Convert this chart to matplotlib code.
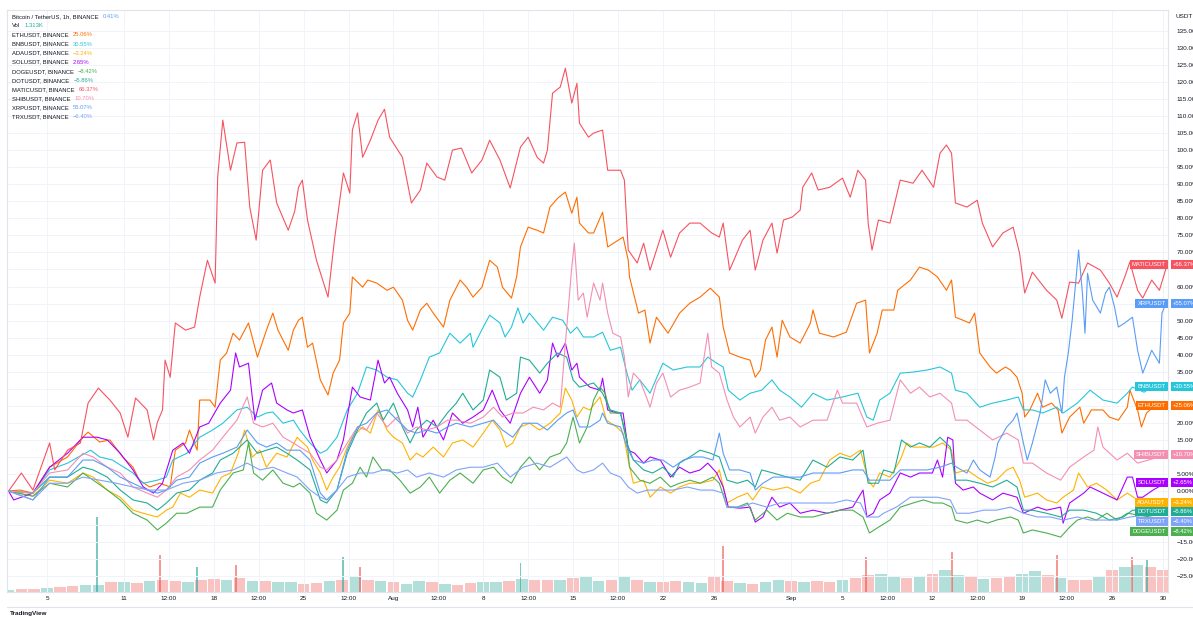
import matplotlib.pyplot as plt
from matplotlib.lines import Line2D
from matplotlib.transforms import blended_transform_factory

plt.rcParams['font.family'] = ['Liberation Sans', 'DejaVu Sans']

eth = [(1.0, 0), (1.9, 0.3), (2.9, -0.6), (4.2, 7.0), (5.6, 10.0), (6.8, 15.8), (7.2, 17.3), (8.1, 14.4), (8.9, 15.0),
       (9.9, 10.0), (10.7, 7.0), (11.2, 3.2), (12.0, 1.2), (12.8, 2.3), (13.6, 1.2), (14.0, 12.0), (14.8, 14.1),
       (15.1, 17.9), (15.7, 12.0), (15.9, 26.7), (16.7, 26.7), (17.1, 24.6), (17.5, 38.4), (18.0, 40.5), (18.5, 46.3),
       (19.0, 44.3), (19.7, 49.3), (20.4, 39.3), (21.1, 47.2), (21.6, 52.2), (22.0, 47.2), (22.8, 41.3), (23.2, 47.2),
       (23.6, 50.1), (23.9, 51.0), (24.3, 42.2), (24.7, 43.4), (25.3, 32.6), (25.9, 28.2), (26.3, 34.6), (26.8, 38.4),
       (27.1, 49.3), (27.6, 52.2), (27.8, 62.8), (28.6, 59.8), (29.0, 61.9), (29.7, 61.0), (30.5, 58.9), (31.0, 59.8),
       (31.7, 56.0), (32.1, 50.1), (32.5, 47.2), (33.1, 53.1), (33.6, 55.1), (34.1, 52.2), (34.9, 48.1), (35.4, 56.0),
       (36.2, 61.9), (36.7, 59.8), (37.2, 56.9), (37.9, 59.8), (38.5, 67.7), (39.1, 65.7), (39.5, 59.8), (40.2, 56.6),
       (40.6, 62.8), (40.9, 71.6), (41.5, 77.4), (42.2, 76.5), (42.7, 75.7), (43.2, 83.3), (43.8, 85.9), (44.4, 87.7),
       (44.9, 81.5), (45.3, 86.2), (45.5, 78.6), (46.2, 75.7), (46.6, 75.7), (47.3, 81.8), (47.7, 71.6), (48.9, 74.5),
       (49.3, 67.7), (49.4, 62.8), (50.1, 52.2), (50.6, 53.1), (51.0, 43.4), (51.5, 51.0), (52.4, 46.3), (53.3, 52.2),
       (54.1, 55.1), (54.9, 56.9), (55.7, 59.5), (56.4, 56.9), (56.7, 48.1), (57.2, 40.5), (58.0, 39.3), (58.8, 38.4),
       (59.2, 33.4), (59.6, 35.5), (60.0, 44.3), (60.5, 48.1), (60.9, 39.3), (61.3, 50.1), (61.9, 45.2), (62.7, 43.4),
       (63.5, 49.3), (63.7, 53.1), (64.2, 46.3), (65.3, 45.2), (66.3, 46.6), (67.1, 55.1), (67.8, 56.0), (68.1, 40.5),
       (68.7, 46.3), (69.1, 53.1), (70.0, 53.1), (70.3, 58.9), (71.3, 61.9), (72.0, 65.7), (72.7, 64.8), (73.4, 62.8),
       (74.1, 58.9), (74.5, 61.9), (74.8, 51.0), (75.4, 50.1), (75.9, 49.3), (76.3, 52.2), (76.7, 40.5), (77.5, 36.4),
       (78.0, 34.6), (78.7, 36.4), (79.1, 35.5), (79.6, 33.4), (80.0, 28.7), (80.2, 21.7), (80.6, 23.8), (81.2, 28.7),
       (81.6, 24.6), (82.3, 25.8), (82.8, 23.8), (83.1, 17.0), (83.7, 21.7), (84.5, 24.6), (84.8, 19.9), (85.4, 23.8),
       (86.3, 23.8), (86.8, 21.7), (87.5, 20.8), (88.2, 24.6), (88.4, 29.6), (89.0, 23.8), (89.3, 18.8), (89.7, 22.9),
       (90.2, 24.6), (91.3, 25.06)]

bnb = [(1.0, 0), (2.9, -0.6), (4.2, 6.2), (5.6, 8.2), (7.4, 12.0), (8.1, 10.0), (9.1, 9.1), (10.7, 5.3), (11.5, 2.3),
       (12.6, 3.2), (13.3, 4.1), (13.8, 9.1), (14.9, 11.1), (15.9, 15.8), (16.9, 17.9), (17.7, 19.9), (18.8, 23.8),
       (19.6, 24.6), (20.4, 21.7), (21.1, 22.9), (21.6, 23.2), (22.4, 19.9), (23.2, 20.8), (23.7, 17.9), (24.5, 14.1),
       (25.3, 11.1), (25.8, 12.0), (26.6, 15.8), (27.4, 23.8), (28.2, 28.7), (28.9, 36.4), (29.7, 35.5), (30.5, 33.4),
       (31.3, 32.6), (32.1, 28.7), (32.5, 27.6), (33.1, 32.6), (33.8, 39.3), (34.6, 40.5), (35.4, 46.3), (36.2, 43.4),
       (37.0, 46.3), (37.2, 42.2), (38.0, 48.1), (38.5, 51.6), (39.3, 49.3), (39.7, 45.2), (40.2, 48.1), (40.7, 53.7),
       (41.1, 49.3), (41.6, 52.2), (42.7, 47.2), (43.4, 51.0), (44.2, 50.1), (44.8, 46.3), (45.3, 48.1), (45.8, 45.2),
       (46.6, 45.2), (47.3, 46.6), (47.9, 41.3), (48.7, 42.2), (49.2, 34.6), (49.6, 29.6), (50.2, 32.6), (51.0, 28.7),
       (52.0, 37.5), (52.8, 35.5), (53.9, 36.4), (54.9, 36.4), (55.5, 39.3), (56.2, 37.5), (56.7, 36.4), (57.1, 29.6),
       (58.0, 26.7), (58.8, 28.7), (59.7, 29.6), (60.5, 32.6), (61.1, 29.6), (61.9, 27.6), (62.8, 24.6), (63.7, 28.7),
       (64.8, 26.7), (66.0, 27.6), (67.2, 28.7), (67.9, 21.7), (68.4, 20.8), (68.9, 26.7), (69.7, 28.7), (70.5, 34.6),
       (71.5, 34.9), (72.6, 35.5), (73.6, 36.4), (74.5, 34.6), (74.8, 29.6), (75.7, 28.7), (76.7, 24.6), (77.7, 25.8),
       (78.8, 26.7), (79.7, 27.6), (80.1, 23.8), (80.8, 23.8), (81.6, 22.9), (82.7, 24.6), (83.2, 22.9), (84.3, 25.8),
       (85.3, 29.6), (86.3, 26.7), (87.4, 25.8), (88.2, 28.7), (88.6, 30.5), (89.5, 29.0), (90.3, 31.0), (91.3, 30.55)]

ada = [(1.0, 0), (2.9, -1.5), (4.2, 3.2), (5.6, 2.3), (6.8, 5.3), (7.6, 4.1), (8.7, 0.3), (9.7, -1.8), (10.7, -5.6),
       (11.5, -6.5), (12.6, -7.6), (13.3, -5.6), (13.8, -4.7), (14.4, -0.6), (15.1, -1.8), (15.9, 0.3), (16.9, -0.6),
       (17.6, 4.1), (18.3, 5.3), (18.9, 11.1), (19.4, 17.9), (20.0, 10.0), (20.6, 12.0), (21.1, 7.0), (21.9, 11.1),
       (22.7, 10.0), (23.5, 15.8), (23.7, 15.0), (24.3, 12.9), (24.7, 9.1), (25.3, 5.3), (25.8, 0.3), (26.3, 4.1),
       (26.8, 7.0), (27.4, 12.9), (27.8, 15.8), (28.6, 18.8), (29.2, 17.0), (29.8, 23.8), (30.5, 17.9), (31.0, 15.8),
       (31.7, 14.1), (32.3, 9.1), (32.8, 11.1), (33.3, 10.0), (34.1, 12.9), (34.9, 10.0), (35.6, 14.1), (36.4, 15.0),
       (37.2, 12.9), (38.0, 17.0), (38.7, 20.8), (39.3, 17.9), (39.8, 12.9), (40.3, 14.1), (40.9, 18.8), (41.6, 19.9),
       (42.4, 17.9), (43.2, 19.9), (44.0, 22.9), (44.4, 30.2), (44.9, 26.7), (45.3, 21.7), (45.8, 24.6), (46.3, 23.8),
       (47.1, 27.6), (47.6, 20.8), (48.4, 18.8), (48.9, 17.0), (49.3, 9.1), (49.7, 2.3), (50.5, 3.2), (51.0, -1.8),
       (51.8, 1.2), (52.6, -0.6), (53.3, 1.2), (54.1, 2.3), (54.9, 2.3), (55.9, 3.2), (56.4, 6.2), (57.0, -3.5),
       (57.8, -1.8), (58.6, -0.6), (59.0, -2.6), (59.7, 1.2), (60.6, 0.3), (61.7, 1.2), (62.7, -0.6), (63.5, 2.3),
       (64.2, 3.2), (65.0, 9.1), (65.8, 11.1), (66.6, 10.0), (67.4, 12.0), (68.0, 3.2), (68.4, 1.2), (68.9, 5.3),
       (69.7, 4.1), (70.5, 9.1), (71.0, 14.1), (71.5, 12.9), (72.3, 12.9), (73.1, 12.9), (73.8, 14.1), (74.5, 12.0),
       (74.8, 5.3), (75.7, 6.2), (76.5, 4.1), (77.3, 2.3), (78.0, 3.2), (78.8, 6.2), (79.3, 7.0), (79.8, 3.2),
       (80.2, -1.8), (81.2, -0.6), (81.9, -2.6), (82.7, -3.5), (83.2, -1.8), (84.0, 0.3), (84.4, 5.3), (85.1, 1.2),
       (85.8, 2.3), (86.6, 0.3), (87.4, -2.6), (88.2, -0.6), (89.0, -2.6), (91.3, -3.24)]

sol = [(1.0, 0), (1.4, -2.6), (2.9, -0.6), (4.2, 7.0), (5.6, 11.1), (6.8, 15.8), (7.9, 15.8), (8.7, 15.0), (9.7, 11.1),
       (10.7, 6.2), (11.5, 1.2), (12.3, -0.6), (13.0, 2.3), (13.8, 12.0), (14.6, 14.1), (15.1, 11.1), (15.9, 18.8),
       (16.6, 19.9), (17.5, 25.8), (18.3, 29.6), (18.7, 40.5), (19.0, 36.4), (19.7, 37.5), (20.2, 20.8), (20.8, 29.6),
       (21.5, 31.7), (21.9, 25.8), (22.7, 23.8), (23.2, 22.9), (23.9, 23.8), (24.5, 15.8), (25.3, 9.1), (25.8, 5.3),
       (26.6, 9.1), (27.1, 15.0), (27.8, 30.5), (28.4, 27.6), (29.2, 26.7), (29.8, 38.4), (30.3, 31.7), (30.7, 33.4),
       (31.3, 28.7), (32.1, 23.8), (32.5, 18.8), (32.9, 24.6), (33.3, 15.8), (34.1, 20.8), (34.9, 15.0), (35.6, 22.9),
       (36.4, 19.9), (37.2, 21.7), (38.0, 23.8), (38.7, 29.6), (39.3, 23.8), (40.1, 19.9), (40.9, 28.7), (41.6, 33.4),
       (42.4, 28.7), (43.0, 32.6), (43.4, 43.4), (43.8, 39.3), (44.4, 43.4), (44.9, 35.5), (45.3, 37.5), (45.5, 33.4),
       (46.3, 30.5), (47.1, 29.6), (47.3, 33.1), (47.7, 23.8), (48.4, 22.9), (48.9, 22.9), (49.3, 12.0), (49.8, 11.1),
       (50.5, 8.2), (51.0, 10.0), (51.8, 9.1), (52.6, 4.1), (53.3, 7.0), (54.1, 5.3), (54.9, 6.2), (55.5, 8.2),
       (56.2, 5.3), (56.7, 1.2), (57.1, -4.7), (58.0, -5.0), (58.8, -4.7), (59.2, -9.1), (59.8, -7.6), (60.5, -1.8),
       (61.1, -4.7), (61.9, -3.5), (62.7, -6.5), (63.7, -5.6), (64.8, -6.5), (65.8, -5.6), (66.8, -4.7), (67.6, 0.3),
       (67.9, -7.6), (68.4, -6.5), (68.9, -2.6), (69.7, -0.6), (70.5, 5.3), (71.3, 4.1), (72.0, 5.3), (73.0, 5.3),
       (73.4, 9.1), (73.8, 4.1), (74.2, 15.8), (74.6, 15.0), (74.8, 2.3), (75.4, 0.3), (76.2, 1.2), (76.7, -0.6),
       (77.7, -2.6), (78.5, -0.6), (79.6, -1.8), (80.1, -6.5), (81.2, -4.7), (81.9, -5.6), (83.0, -4.7), (83.2, -9.4),
       (83.7, -3.5), (84.8, -0.6), (85.3, 1.2), (86.3, -0.6), (87.4, -2.6), (88.2, 4.1), (88.6, 4.1), (89.0, -1.8),
       (89.4, -1.8), (90.2, 0.3), (91.3, 2.65)]

doge = [(1.0, 0), (2.9, -1.5), (4.2, 2.3), (5.6, 1.2), (6.8, 5.3), (7.6, 3.2), (8.7, 0.3), (9.7, -2.6), (10.7, -6.5),
        (11.8, -8.5), (12.6, -11.4), (13.3, -9.4), (14.1, -6.5), (14.9, -6.5), (15.9, -4.7), (16.9, -4.7), (17.5, 0.3),
        (18.5, 5.3), (19.3, 6.2), (19.7, 14.1), (20.1, 5.3), (20.8, 3.2), (21.6, 6.2), (22.4, 2.3), (23.2, 1.2),
        (23.7, 2.3), (24.5, -0.6), (25.0, -6.5), (25.8, -8.5), (26.6, -5.6), (27.1, 0.3), (27.8, 2.3), (28.4, 7.0),
        (28.9, 4.1), (29.4, 10.0), (30.1, 6.2), (30.7, 6.2), (31.5, 3.2), (32.3, -0.6), (33.1, 1.2), (33.8, 4.1),
        (34.6, -0.6), (35.4, 3.2), (36.2, 5.3), (37.2, 2.3), (38.0, 6.2), (38.8, 7.0), (39.5, 4.1), (40.2, 2.3),
        (40.9, 7.0), (41.6, 10.0), (42.4, 6.2), (43.2, 10.0), (44.0, 11.1), (44.5, 14.1), (45.0, 21.7), (45.5, 14.1),
        (46.1, 18.8), (46.6, 26.7), (47.1, 30.5), (47.5, 28.7), (47.9, 22.9), (48.7, 22.9), (49.2, 15.0), (49.4, 7.0),
        (50.2, 3.2), (51.0, 2.3), (51.8, 4.1), (52.6, 1.2), (53.3, 2.3), (54.1, 3.2), (54.9, 2.3), (55.9, 4.1),
        (56.4, 2.3), (57.0, -4.7), (57.8, -4.7), (58.6, -3.5), (59.2, -8.5), (60.1, -5.6), (60.9, -8.5), (61.7, -6.5),
        (62.7, -7.6), (63.7, -7.6), (64.8, -6.5), (65.8, -5.6), (66.8, -5.6), (67.6, -7.6), (68.1, -12.3),
        (68.8, -10.6), (69.7, -8.5), (70.5, -4.7), (71.5, -3.5), (72.3, -2.6), (73.1, -3.5), (73.8, -3.5),
        (74.5, -4.7), (74.8, -8.5), (75.7, -9.4), (76.5, -8.5), (77.3, -9.4), (78.0, -8.5), (79.1, -7.6), (79.7, -8.5),
        (80.1, -12.3), (80.8, -11.4), (81.9, -12.3), (83.0, -13.5), (83.7, -10.6), (84.3, -8.5), (85.1, -7.6),
        (85.8, -8.5), (86.6, -6.5), (87.4, -8.5), (88.2, -6.5), (91.3, -8.42)]

dot = [(1.0, 0), (2.9, -0.6), (4.2, 4.1), (5.6, 4.1), (6.8, 7.0), (7.6, 6.2), (8.7, 4.1), (9.7, 0.3), (10.7, -2.6),
       (11.8, -3.5), (12.6, -5.6), (13.3, -3.5), (14.1, -0.6), (15.1, 0.3), (15.9, 3.2), (16.9, 5.3), (17.5, 9.1),
       (18.5, 11.1), (19.6, 15.0), (20.4, 11.1), (21.1, 12.0), (21.9, 12.9), (22.7, 11.1), (23.5, 9.1), (24.5, 6.2),
       (25.3, -2.6), (25.8, -3.5), (26.6, 0.3), (27.4, 11.1), (28.2, 17.9), (28.9, 22.9), (29.7, 25.8), (30.2, 20.8),
       (31.0, 25.8), (31.7, 18.8), (32.3, 14.1), (32.8, 17.9), (33.6, 20.8), (34.4, 18.8), (35.2, 22.9), (35.9, 25.8),
       (36.4, 28.7), (37.2, 23.8), (38.0, 26.7), (38.5, 35.5), (39.3, 33.4), (39.8, 26.7), (40.6, 28.7), (40.9, 39.3),
       (41.6, 38.4), (42.4, 34.6), (43.0, 37.5), (43.8, 40.5), (44.5, 39.3), (45.0, 32.6), (45.5, 30.5), (46.6, 31.7),
       (47.3, 28.7), (47.9, 23.8), (48.7, 22.9), (49.2, 14.1), (49.7, 9.1), (50.5, 6.2), (51.2, 5.3), (52.0, 7.0),
       (52.8, 4.1), (53.3, 8.2), (54.1, 10.0), (54.9, 12.0), (55.7, 11.1), (56.4, 10.0), (57.0, 3.2), (57.8, 2.3),
       (58.6, 3.2), (59.2, 1.2), (59.7, 6.2), (60.6, 5.3), (61.7, 4.1), (62.7, 3.2), (63.7, 9.1), (64.8, 7.0),
       (65.8, 10.0), (66.8, 9.1), (67.6, 12.0), (68.0, 2.3), (68.8, 2.3), (69.2, 6.2), (70.0, 5.3), (70.6, 15.0),
       (71.3, 12.9), (72.0, 14.1), (72.8, 12.9), (73.6, 15.8), (74.4, 12.9), (74.8, 3.2), (75.7, 3.2), (76.7, 2.3),
       (77.7, 1.2), (78.8, 3.2), (79.6, 1.2), (80.1, -5.6), (80.8, -5.6), (81.9, -6.5), (83.0, -7.6), (83.7, -5.6),
       (84.8, -5.6), (85.8, -6.5), (86.8, -8.5), (87.9, -7.6), (88.6, -5.6), (91.3, -5.86)]

matic = [(1.0, 0), (2.0, 5.3), (2.9, 0.3), (4.2, 14.1), (4.6, 6.2), (5.6, 12.0), (6.6, 14.1), (7.2, 25.8), (8.0, 30.2),
         (8.9, 26.7), (9.7, 22.9), (10.3, 15.8), (10.9, 27.3), (11.8, 23.8), (12.3, 15.0), (12.6, 20.2), (13.0, 23.8),
         (13.2, 38.4), (13.6, 33.4), (14.0, 49.3), (14.8, 47.2), (15.5, 48.1), (15.9, 56.9), (16.5, 67.7), (17.1, 61.0),
         (17.3, 92.1), (17.7, 108.8), (18.3, 94.1), (18.8, 102.1), (19.4, 102.3), (19.8, 83.3), (20.3, 73.6),
         (20.8, 94.1), (21.4, 97.1), (21.9, 84.5), (22.8, 76.5), (23.3, 82.0), (23.6, 89.1), (23.9, 91.2), (24.3, 79.5),
         (25.0, 67.7), (25.9, 56.9), (26.4, 73.6), (27.1, 93.3), (27.6, 87.4), (27.8, 105.9), (28.2, 110.9),
         (28.6, 97.9), (29.2, 102.9), (29.8, 108.8), (30.3, 112.0), (30.7, 103.8), (31.7, 97.9), (32.4, 84.5),
         (33.1, 88.3), (33.6, 96.2), (34.4, 92.1), (35.0, 91.2), (35.6, 100.0), (36.3, 100.6), (37.1, 93.3),
         (37.9, 97.1), (38.5, 102.9), (39.3, 97.1), (40.1, 88.9), (40.9, 100.9), (41.5, 103.8), (42.2, 97.9),
         (42.7, 96.2), (43.0, 100.0), (43.4, 116.7), (44.0, 118.5), (44.4, 124.0), (44.9, 113.8), (45.3, 119.6),
         (45.5, 107.9), (46.2, 103.8), (46.6, 105.0), (47.3, 105.9), (47.7, 94.1), (48.7, 94.1), (49.0, 91.2),
         (49.3, 70.7), (50.0, 66.9), (50.5, 72.7), (51.0, 64.8), (52.0, 76.5), (52.6, 68.6), (53.3, 75.7),
         (54.1, 78.6), (54.9, 78.6), (55.8, 75.7), (56.4, 74.5), (56.7, 78.6), (57.2, 64.8), (58.2, 73.6),
         (58.8, 76.5), (59.2, 64.8), (59.8, 73.6), (60.5, 78.6), (60.9, 69.8), (61.4, 79.5), (62.1, 80.4),
         (62.7, 82.4), (62.9, 89.1), (63.6, 93.3), (64.1, 88.3), (65.0, 89.1), (66.0, 91.8), (66.6, 86.2),
         (67.2, 94.1), (67.8, 91.2), (68.0, 78.6), (68.3, 70.7), (68.8, 79.5), (69.7, 78.6), (70.5, 91.2),
         (71.5, 90.3), (72.2, 94.1), (73.1, 89.1), (73.6, 99.1), (74.1, 101.5), (74.5, 99.1), (74.8, 84.5),
         (75.7, 83.3), (76.5, 85.3), (76.9, 78.6), (77.7, 71.6), (78.5, 75.7), (79.3, 77.4), (79.8, 69.8),
         (80.2, 58.1), (80.8, 64.2), (81.9, 58.9), (82.7, 56.0), (83.1, 50.7), (83.7, 61.3), (84.4, 61.0),
         (85.1, 66.9), (86.1, 64.8), (86.8, 61.0), (87.4, 56.9), (88.0, 62.8), (88.4, 67.2), (89.0, 58.9),
         (89.4, 56.6), (90.1, 61.9), (90.7, 58.9), (91.1, 63.9), (91.3, 66.37)]

shib = [(1.0, 0), (2.9, -0.6), (4.2, 5.3), (5.6, 6.2), (6.8, 11.1), (7.6, 10.0), (8.7, 7.0), (9.7, 5.3), (10.7, 1.2),
        (11.8, -0.6), (12.6, -1.8), (13.3, 0.3), (14.1, 4.1), (15.1, 6.2), (15.9, 9.1), (16.9, 12.0), (17.7, 15.8),
        (18.8, 20.8), (19.6, 27.6), (20.1, 19.9), (20.8, 18.8), (21.6, 19.9), (22.4, 15.8), (23.2, 14.1), (23.7, 12.9),
        (24.5, 11.1), (25.3, 7.0), (25.8, 6.2), (26.6, 9.1), (27.4, 14.1), (28.2, 18.8), (28.9, 17.9), (29.7, 22.9),
        (30.5, 18.8), (31.3, 21.7), (32.1, 17.0), (32.8, 18.8), (33.6, 17.9), (34.4, 18.8), (35.2, 20.8), (35.9, 20.8),
        (37.0, 19.9), (38.0, 21.7), (38.8, 24.6), (39.5, 21.7), (40.3, 22.9), (41.1, 22.9), (41.9, 24.6), (42.7, 23.8),
        (43.4, 25.8), (44.0, 24.6), (44.4, 43.4), (44.6, 52.2), (44.9, 65.7), (45.1, 72.7), (45.4, 56.0), (45.8, 58.1),
        (46.1, 51.0), (46.6, 61.0), (47.1, 56.0), (47.3, 61.0), (47.7, 52.2), (48.1, 46.3), (48.7, 45.2), (49.0, 39.3),
        (49.3, 27.6), (49.7, 34.6), (50.2, 32.6), (50.8, 26.7), (51.0, 24.6), (51.5, 31.7), (52.0, 34.6), (52.6, 27.6),
        (53.3, 29.6), (54.1, 30.5), (54.9, 31.7), (55.5, 46.3), (55.8, 36.4), (56.4, 34.6), (57.0, 26.7), (57.5, 21.7),
        (58.0, 18.8), (58.8, 21.7), (59.2, 17.0), (59.8, 21.7), (60.5, 24.6), (61.1, 20.8), (61.9, 21.7), (62.7, 18.8),
        (63.7, 20.8), (64.8, 20.8), (65.6, 29.6), (66.0, 25.8), (67.1, 25.8), (67.9, 18.8), (68.7, 19.9), (69.7, 20.8),
        (70.5, 32.6), (71.3, 28.7), (72.0, 30.5), (72.8, 27.6), (73.6, 28.7), (74.5, 25.8), (74.8, 20.8), (75.7, 20.8),
        (76.7, 17.9), (77.7, 15.0), (78.8, 17.0), (79.7, 15.0), (80.1, 8.2), (80.8, 8.2), (81.9, 5.3), (83.0, 3.2),
        (83.7, 7.0), (84.8, 10.0), (85.6, 12.0), (85.9, 18.8), (86.3, 12.9), (87.4, 9.1), (88.2, 11.1), (89.0, 8.2),
        (91.3, 10.7)]

xrp = [(1.0, 0), (2.9, -2.6), (4.2, 4.1), (5.6, 4.1), (6.8, 9.1), (7.6, 9.1), (8.7, 7.0), (9.7, 4.1), (10.7, 2.3),
       (11.8, 0.3), (12.6, -0.6), (13.3, 0.3), (14.1, 3.2), (15.1, 4.1), (15.9, 8.2), (16.9, 10.0), (17.7, 11.1),
       (18.8, 12.9), (19.6, 17.9), (20.4, 14.1), (21.1, 12.9), (21.9, 14.1), (22.7, 12.0), (23.7, 12.0), (24.5, 9.1),
       (25.3, -0.6), (25.8, -2.6), (26.6, 0.3), (27.4, 12.0), (28.2, 18.8), (28.9, 19.9), (29.7, 22.9), (30.5, 23.8),
       (31.3, 20.8), (32.1, 17.9), (32.8, 17.0), (33.6, 17.9), (34.4, 17.0), (35.2, 18.8), (35.9, 19.9), (37.0, 18.8),
       (38.0, 19.9), (38.8, 20.8), (39.5, 17.9), (40.3, 15.8), (41.1, 19.9), (42.2, 19.9), (43.0, 17.9), (43.8, 20.8),
       (44.5, 22.9), (45.0, 23.8), (45.5, 18.8), (46.3, 18.8), (47.1, 20.8), (47.3, 22.9), (47.7, 19.9), (48.7, 18.8),
       (49.2, 12.9), (49.7, 9.1), (50.5, 8.2), (51.2, 9.1), (52.0, 9.1), (52.8, 7.0), (53.6, 9.1), (54.4, 10.0),
       (55.1, 10.0), (55.9, 9.1), (56.4, 17.0), (56.7, 11.1), (57.2, 6.2), (58.0, 6.2), (58.8, 5.3), (59.2, 0.3),
       (59.8, 2.3), (60.6, 4.1), (61.7, 4.1), (62.7, 4.1), (63.7, 5.3), (64.8, 5.3), (65.8, 5.3), (66.8, 6.2),
       (67.6, 6.2), (68.1, 3.2), (69.7, 3.2), (70.5, 6.2), (71.5, 6.2), (72.6, 6.2), (73.6, 7.0), (74.5, 8.2),
       (74.9, 7.0), (75.7, 5.3), (76.2, 9.1), (76.7, 6.2), (77.5, 4.1), (77.9, 10.0), (78.1, 14.1), (78.8, 18.8),
       (79.3, 20.8), (79.6, 22.9), (80.1, 14.1), (80.4, 9.1), (80.8, 14.1), (81.4, 22.9), (81.8, 32.6), (82.2, 28.7),
       (82.7, 30.5), (83.1, 22.9), (83.3, 33.4), (83.6, 40.5), (83.9, 50.1), (84.1, 58.1), (84.4, 70.7), (84.7, 58.1),
       (84.9, 46.3), (85.1, 63.9), (85.5, 56.0), (86.1, 52.2), (86.5, 58.1), (86.8, 59.8), (87.2, 54.0), (87.5, 48.1),
       (88.0, 49.3), (88.6, 51.0), (89.0, 41.3), (89.4, 34.6), (90.1, 41.3), (90.7, 37.5), (90.9, 52.2), (91.1, 54.0),
       (91.3, 55.07)]

trx = [(1.0, 0), (2.9, -2.6), (4.2, 2.3), (5.6, 2.3), (6.8, 4.1), (8.1, 3.2), (9.4, 2.3), (10.7, 1.2), (12.0, 0.3),
       (13.3, 0.3), (14.6, 2.3), (15.9, 3.2), (17.2, 5.3), (18.5, 6.2), (19.6, 8.2), (20.6, 6.2), (21.6, 7.0),
       (22.7, 5.3), (23.5, 4.1), (24.5, 0.3), (25.3, -1.8), (25.8, -2.6), (26.6, 0.3), (27.4, 4.1), (28.4, 5.3),
       (29.4, 5.3), (30.2, 6.2), (31.3, 5.3), (32.1, 6.2), (32.8, 4.1), (33.8, 5.3), (34.9, 4.1), (35.9, 6.2),
       (37.0, 7.0), (38.0, 7.0), (39.1, 8.2), (40.1, 4.1), (41.1, 7.0), (42.2, 8.2), (43.2, 7.0), (44.5, 10.0),
       (45.3, 6.2), (45.8, 5.3), (46.6, 6.2), (47.3, 8.2), (47.9, 5.3), (48.7, 4.1), (49.3, 1.2), (50.0, -0.6),
       (50.8, 0.3), (51.8, 0.3), (52.8, 0.3), (53.9, 1.2), (54.9, 0.3), (55.9, 0.3), (56.7, -0.6), (57.0, -4.7),
       (58.0, -4.7), (59.0, -3.5), (60.1, -4.7), (61.1, -3.5), (62.1, -3.5), (63.2, -3.5), (64.2, -3.5), (65.3, -3.5),
       (66.3, -2.6), (67.4, -3.5), (67.9, -7.6), (68.8, -7.6), (69.2, -6.5), (70.2, -4.7), (71.3, -1.8), (72.3, -1.8),
       (73.4, -1.8), (74.4, -2.6), (74.9, -6.5), (75.9, -6.5), (77.0, -5.6), (78.0, -5.6), (79.1, -4.7), (80.1, -6.5),
       (81.2, -7.6), (82.2, -7.6), (83.2, -8.5), (84.3, -7.6), (85.3, -8.5), (86.3, -8.5), (87.4, -8.5), (88.4, -7.6),
       (91.3, -6.4)]

nombres = ['ETHUSDT', 'BNBUSDT', 'ADAUSDT', 'SOLUSDT', 'DOGEUSDT', 'DOTUSDT', 'MATICUSDT', 'SHIBUSDT', 'XRPUSDT', 'TRXUSDT']
colores = ['#FF6D00', '#26C6DA', '#FFB300', '#AA00FF', '#4CAF50', '#22AB94', '#F7525F', '#F48FB1', '#5B9CF6', '#7FA3F8']
datos = [eth, bnb, ada, sol, doge, dot, matic, shib, xrp, trx]

# Volumen diario (relativo) y algunos picos horarios
vol = [3, 4, 4, 5, 6, 7, 8, 9, 12, 12,
       11, 13, 15, 13, 12, 14, 16, 15, 17, 13,
       13, 12, 12, 10, 11, 13, 15, 18, 14, 13,
       12, 10, 13, 12, 10, 9, 11, 12, 12, 13,
       16, 15, 14, 15, 17, 18, 13, 14, 18, 15,
       12, 12, 13, 12, 11, 18, 13, 11, 10, 12,
       14, 13, 12, 13, 12, 15, 17, 20, 22, 18,
       17, 19, 22, 26, 20, 18, 16, 17, 19, 22,
       25, 20, 17, 14, 14, 18, 26, 30, 32, 30, 27]
vol_dir = "uddudduudududduddududuuddudududuududduududduduudududduudduduududdudduududuududduududduduuddudduduudduud"
picos = [(7.9, 90, 'u'), (12.8, 45, 'd'), (15.7, 30, 'u'), (18.7, 32, 'd'), (27.1, 42, 'u'), (28.4, 30, 'd'),
         (40.9, 35, 'u'), (56.7, 55, 'd'), (67.8, 42, 'd'), (74.5, 48, 'd'), (82.7, 45, 'd'), (88.6, 42, 'd'),
         (89.7, 40, 'u')]

ticks_x = [4, 10, 13.5, 17, 20.5, 24, 27.5, 31, 34.5, 38, 41.5, 45, 48.5, 52, 56, 62, 66, 69.5, 73, 76.5, 80, 83.5, 87, 91]
labels_x = ['5', '11', '12:00', '18', '12:00', '25', '12:00', 'Aug', '12:00', '8', '12:00', '15', '12:00', '22', '26',
            'Sep', '5', '12:00', '12', '12:00', '19', '12:00', '26', '30']
ticks_y = list(range(-25, 140, 5))

fig = plt.figure(figsize=(11.93, 6.17), dpi=100)
ax = fig.add_axes([7/1193, 25/617, 1161/1193, 582/617])
axv = ax.twinx()
ax.set_zorder(axv.get_zorder() + 1)
ax.patch.set_visible(False)

# Volumen
colv = {'u': '#26A69A', 'd': '#EF5350'}
axv.bar(range(1, len(vol) + 1), vol, width=0.9, color=[colv[c] for c in vol_dir[:len(vol)]], alpha=0.35, linewidth=0)
axv.bar([p[0] for p in picos], [p[1] for p in picos], width=0.15, color=[colv[p[2]] for p in picos],
        alpha=0.6, linewidth=0)
axv.set_ylim(0, 700)
axv.set_yticks([])
for s in axv.spines.values():
    s.set_visible(False)

# Lineas
for nombre, serie, color in zip(nombres, datos, colores):
    ax.plot([p[0] for p in serie], [p[1] for p in serie], color=color, lw=0.8)

# Posicion de las etiquetas de la derecha (evitando que se encimen)
finales = [s[-1][1] for s in datos]
orden = sorted(range(len(finales)), key=lambda i: -finales[i])
pos = {}
prev = None
for i in orden:
    y = finales[i]
    if prev is not None and prev - y < 2.85:
        y = prev - 2.85
    pos[i] = y
    prev = y

ax.set_xlim(0.88, 91.37)
ax.set_ylim(-29.6, 141.1)
ax.set_xticks(ticks_x)
ax.set_xticklabels(labels_x)
ax.yaxis.tick_right()
ax.set_yticks(ticks_y)
# las marcas tapadas por las cajas de valor no se escriben
etiquetas_y = []
for v in ticks_y:
    tapada = any(abs(v - p) < 1.9 for p in pos.values())
    etiquetas_y.append('' if tapada else f"{v:.2f}%".replace('-', '\u2212'))
ax.set_yticklabels(etiquetas_y)
ax.tick_params(axis='y', length=0, pad=6, labelsize=4.6, labelcolor='#131722')
ax.tick_params(axis='x', length=0, pad=3, labelsize=4.6, labelcolor='#131722')
ax.grid(color='#F0F3FA', lw=0.7)
for s in ax.spines.values():
    s.set_color('#E0E3EB')
    s.set_linewidth(0.8)
# borde inferior de la franja de fechas
fig.add_artist(Line2D([7/1193, 1], [1 - 607/617, 1 - 607/617], transform=fig.transFigure, color='#E0E3EB', lw=0.8))
fig.text(1175/1193, 1 - 17/617, 'USDT', fontsize=4.6, va='center', color='#131722')

trans = blended_transform_factory(ax.transAxes, ax.transData)
for i in range(len(nombres)):
    caja = dict(boxstyle='square,pad=0.35', fc=colores[i], ec='none')
    ax.text(0.998, pos[i], nombres[i], transform=trans, ha='right', va='center', fontsize=4.2,
            color='white', bbox=caja, clip_on=False, zorder=5)
    signo = '+' if finales[i] >= 0 else '\u2212'
    ax.text(1.004, pos[i], f"{signo}{abs(finales[i]):.2f}%", transform=trans, ha='left', va='center',
            fontsize=4.2, color='white', bbox=caja, clip_on=False, zorder=5)

# Leyenda superior izquierda
filas = [('Bitcoin / TetherUS, 1h, BINANCE', '0.41%', '#5B9CF6'), ('Vol', '1.313K', '#26A69A')]
for n, v, c in zip(nombres, finales, colores):
    filas.append((n + ', BINANCE', f"{v:.2f}%".replace('-', '\u2212'), c))
for k, (txt, val, c) in enumerate(filas):
    t = fig.text(12/1193, 1 - (16.7 + 9.1*k)/617, txt, fontsize=4.2, color='#131722', va='center')
    ax.annotate(val, xy=(1, 0.5), xycoords=t, xytext=(3, 0), textcoords='offset points',
                fontsize=4.2, color=c, va='center')

fig.text(10/1193, 3/617, 'TradingView', fontsize=4.6, color='#131722', va='center', fontweight='bold')

plt.savefig('out.png', dpi=100, facecolor='white')
